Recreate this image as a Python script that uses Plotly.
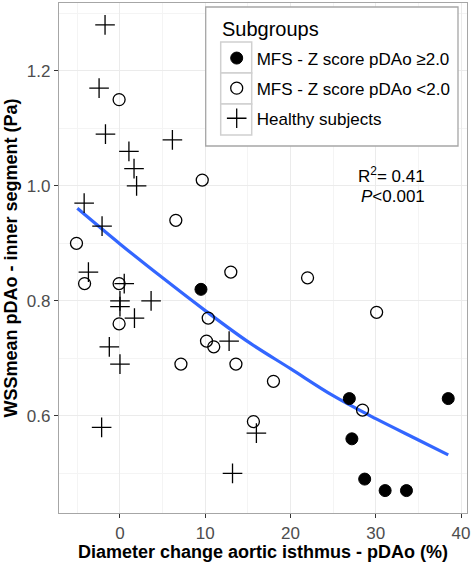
import plotly.graph_objects as go

# --- data ---
mfs_high_x = [9.5, 26.9, 27.2, 28.7, 31.1, 33.6, 38.5]
mfs_high_y = [0.82, 0.63, 0.56, 0.49, 0.47, 0.47, 0.63]

mfs_low_x = [-0.1, 9.65, -5.1, 6.55, 13.0, 22.0, -4.15, -0.1, -0.1, 10.35,
             10.15, 11.0, 7.15, 13.6, 18.0, 30.1, 28.45, 15.65]
mfs_low_y = [1.15, 1.01, 0.90, 0.94, 0.85, 0.84, 0.83, 0.83, 0.76, 0.77,
             0.73, 0.72, 0.69, 0.69, 0.66, 0.78, 0.61, 0.59]

healthy_x = [-1.75, -2.45, -1.7, 6.15, 1.05, 1.65, 1.95, -4.2, -2.1, -3.7, 0.5,
             0.0, 0.0, 3.65, 1.7, -1.25, 0.0, -2.15, 12.8, 16.0, 13.2]
healthy_y = [1.28, 1.17, 1.09, 1.08, 1.06, 1.03, 1.00, 0.97, 0.93, 0.85, 0.83,
             0.80, 0.79, 0.80, 0.77, 0.72, 0.69, 0.58, 0.73, 0.57, 0.50]

# fitted curve
fit_x = [-5, 0, 5, 10, 15, 20, 25, 30, 35, 38.5]
fit_y = [0.961, 0.899, 0.840, 0.783, 0.729, 0.682, 0.635, 0.595, 0.558, 0.532]

x_ticks = [0, 10, 20, 30, 40]
y_ticks = [0.6, 0.8, 1.0, 1.2]
y_tick_text = ["0.6", "0.8", "1.0", "1.2"]

FONT = "Arial, Liberation Sans, Helvetica, sans-serif"

# plot-area pixel geometry (used only to place legend decoration in paper units)
W, H = 472, 563
ML, MR, MT, MB = 59, 5, 3, 50
PW, PH = W - ML - MR, H - MT - MB


def px_x(p):
    return (p - ML) / PW


def px_y(p):
    return (H - MB - p) / PH


fig = go.Figure()
fig.add_trace(go.Scatter(
    x=fit_x, y=fit_y, mode="lines", line=dict(color="#3366FF", width=3.2, shape="spline"),
    showlegend=False, hoverinfo="skip"))
fig.add_trace(go.Scatter(
    x=mfs_high_x, y=mfs_high_y, mode="markers", name="MFS - Z score pDAo ≥2.0",
    legendgroup="a",
    marker=dict(symbol="circle", size=12, color="black", line=dict(color="black", width=1))))
fig.add_trace(go.Scatter(
    x=mfs_low_x, y=mfs_low_y, mode="markers", name="MFS - Z score pDAo <2.0",
    legendgroup="b",
    marker=dict(symbol="circle-open", size=12, color="black", line=dict(color="black", width=1.3))))
fig.add_trace(go.Scatter(
    x=healthy_x, y=healthy_y, mode="markers", name="Healthy subjects",
    legendgroup="c",
    marker=dict(symbol="cross-thin-open", size=14, color="black", line=dict(color="black", width=1.3))))

fig.add_annotation(x=36.0, y=1.019, xref="x", yref="y", text="R<sup>2</sup>= 0.41",
                   showarrow=False, xanchor="right", yanchor="middle",
                   font=dict(family=FONT, size=17, color="black"))
fig.add_annotation(x=36.0, y=0.981, xref="x", yref="y", text="<i>P</i><0.001",
                   showarrow=False, xanchor="right", yanchor="middle",
                   font=dict(family=FONT, size=17, color="black"))

# legend background, border, title and key boxes (drawn under the native legend)
fig.add_shape(type="rect", xref="paper", yref="paper", layer="above",
              x0=px_x(205.7), x1=px_x(458), y0=px_y(146), y1=px_y(7),
              fillcolor="white", line=dict(color="#a6a6a6", width=1.3))
for top, bot in [(42, 73), (73, 104), (104, 135)]:
    fig.add_shape(type="rect", xref="paper", yref="paper", layer="above",
                  x0=px_x(220.7), x1=px_x(251.7), y0=px_y(bot), y1=px_y(top),
                  fillcolor="white", line=dict(color="#d0d0d0", width=1.5))
fig.add_annotation(x=px_x(220), y=px_y(29), xref="paper", yref="paper", text="Subgroups",
                   showarrow=False, xanchor="left", yanchor="middle",
                   font=dict(family=FONT, size=20, color="black"))

axis_common = dict(
    showline=True, mirror=True, linecolor="#a6a6a6", linewidth=1.2,
    ticks="outside", ticklen=4, tickcolor="#333333", tickwidth=1.3,
    showgrid=True, gridcolor="#ebebeb", gridwidth=1, zeroline=False,
    tickfont=dict(family=FONT, size=17, color="#4d4d4d"),
    automargin=False,
)

fig.update_layout(
    width=W, height=H,
    margin=dict(l=ML, r=MR, t=MT, b=MB),
    paper_bgcolor="white", plot_bgcolor="white",
    font=dict(family=FONT, color="black"),
    xaxis=dict(range=[-7.15, 40.7], tickvals=x_ticks, ticktext=[str(v) for v in x_ticks],
               minor=dict(dtick=5, tick0=0, showgrid=True, gridcolor="#f4f4f4", ticks=""),
               title=dict(text="<b>Diameter change aortic isthmus - pDAo (%)</b>",
                          font=dict(family=FONT, size=18, color="black"), standoff=2),
               **axis_common),
    yaxis=dict(range=[0.431, 1.318], tickvals=y_ticks, ticktext=y_tick_text,
               minor=dict(dtick=0.1, tick0=0, showgrid=True, gridcolor="#f4f4f4", ticks=""),
               title=dict(text="<b>WSSmean pDAo - inner segment (Pa)</b>",
                          font=dict(family=FONT, size=18, color="black"), standoff=4),
               **axis_common),
    legend=dict(
        x=px_x(216.7), y=px_y(40.5), xanchor="left", yanchor="top",
        bgcolor="rgba(0,0,0,0)", borderwidth=0,
        font=dict(family=FONT, size=17, color="black"),
        tracegroupgap=5, itemwidth=30,
    ),
)

fig.write_html("out.html", config={"displayModeBar": False},
               post_script="document.body.style.margin='0px';")
